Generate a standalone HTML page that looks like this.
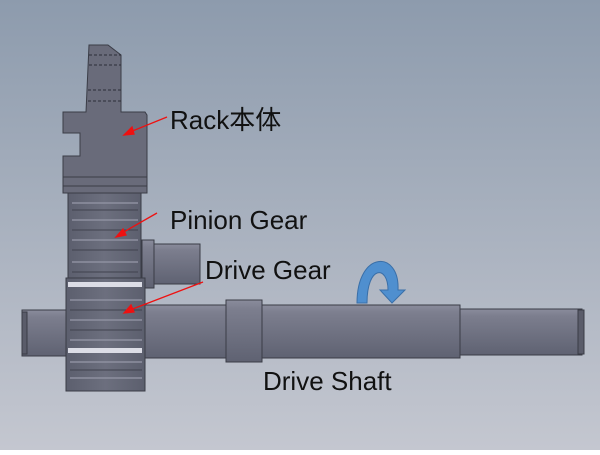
<!DOCTYPE html>
<html><head><meta charset="utf-8"><style>
html,body{margin:0;padding:0;}
body{width:600px;height:450px;overflow:hidden;}
</style></head><body>
<svg width="600" height="450" xmlns="http://www.w3.org/2000/svg">
<defs>
<linearGradient id="bg" x1="0" y1="0" x2="0" y2="1">
<stop offset="0" stop-color="#8d9bad"/><stop offset="1" stop-color="#c4c7d0"/>
</linearGradient>
<linearGradient id="sh" x1="0" y1="0" x2="0" y2="1">
<stop offset="0" stop-color="#8a8c9c"/><stop offset="0.15" stop-color="#7c7e8e"/><stop offset="1" stop-color="#5f6272"/>
</linearGradient>
<linearGradient id="gr" x1="0" y1="0" x2="1" y2="0">
<stop offset="0" stop-color="#5c5f6e"/><stop offset="0.5" stop-color="#6c6f7e"/><stop offset="1" stop-color="#5c5f6e"/>
</linearGradient>
</defs>
<rect width="600" height="450" fill="url(#bg)"/>
<g stroke="#3a3c46" stroke-width="1">
<rect x="22" y="310" width="46" height="46" fill="url(#sh)"/>
<rect x="22" y="312" width="5" height="42" fill="#5a5c6a"/>
<rect x="140" y="305" width="320" height="53" fill="url(#sh)"/>
<rect x="460" y="309" width="122" height="46" fill="url(#sh)"/>
<rect x="578" y="310" width="6" height="44" fill="#5a5c6a"/>
<rect x="226" y="300" width="36" height="62" fill="url(#sh)"/>
<rect x="150" y="244" width="50" height="40" fill="url(#sh)"/>
<rect x="142" y="240" width="12" height="48" fill="url(#sh)"/>
<rect x="68" y="193" width="73" height="100" fill="url(#gr)"/>
<rect x="66" y="278" width="79" height="113" fill="url(#gr)"/>
<polygon points="89,45 108,45 121,55 121,112 145,112 147,115 147,193 63,193 63,156 80,156 80,133 63,133 63,112 86,112" fill="#696b7a"/>
<line x1="63" y1="177" x2="147" y2="177"/>
<line x1="63" y1="186" x2="147" y2="186"/>
</g>
<g stroke="#2c2e38" stroke-width="1" stroke-dasharray="3,2">
<line x1="89" y1="55" x2="121" y2="55"/><line x1="89" y1="65" x2="121" y2="65"/>
<line x1="88" y1="90" x2="121" y2="90"/><line x1="88" y1="101" x2="121" y2="101"/>
</g>
<g stroke="#8e90a0" stroke-width="1.5">
<line x1="72" y1="203" x2="138" y2="203"/><line x1="72" y1="220" x2="138" y2="220"/>
<line x1="72" y1="240" x2="138" y2="240"/><line x1="72" y1="262" x2="138" y2="262"/>
<line x1="70" y1="300" x2="142" y2="300"/><line x1="70" y1="320" x2="142" y2="320"/>
<line x1="70" y1="340" x2="142" y2="340"/><line x1="70" y1="362" x2="142" y2="362"/>
<line x1="70" y1="378" x2="142" y2="378"/>
</g>
<g stroke="#40424e" stroke-width="1">
<line x1="72" y1="210" x2="138" y2="210"/><line x1="72" y1="230" x2="138" y2="230"/>
<line x1="72" y1="250" x2="138" y2="250"/><line x1="72" y1="272" x2="138" y2="272"/>
<line x1="70" y1="310" x2="142" y2="310"/><line x1="70" y1="330" x2="142" y2="330"/>
<line x1="70" y1="350" x2="142" y2="350"/><line x1="70" y1="370" x2="142" y2="370"/>
</g>
<rect x="68" y="282" width="74" height="5" fill="#dcdde6"/>
<rect x="68" y="348" width="74" height="5" fill="#dcdde6"/>
<path d="M357,303 C357,250 400,250 398,290 L405,290 L392,303 L380,290 L388,290 C388,265 367,265 367,303 Z" fill="#4f8fcf" stroke="#3a6fa8" stroke-width="1"/>
<g stroke="#ee1111" stroke-width="1.3" fill="#ee1111">
<line x1="167" y1="117" x2="130" y2="132"/><polygon points="124,135 132,127 134,134"/>
<line x1="157" y1="213" x2="122" y2="233"/><polygon points="116,237 123,229 126,235"/>
<line x1="203" y1="282" x2="130" y2="310"/><polygon points="124,313 131,305 134,312"/>
</g>
<g font-family="Liberation Sans, Noto Sans CJK SC, sans-serif" fill="#111" font-size="26">
<text x="170" y="129">Rack本体</text>
<text x="170" y="229">Pinion Gear</text>
<text x="205" y="279">Drive Gear</text>
<text x="263" y="390">Drive Shaft</text>
</g>
</svg>
</body></html>
